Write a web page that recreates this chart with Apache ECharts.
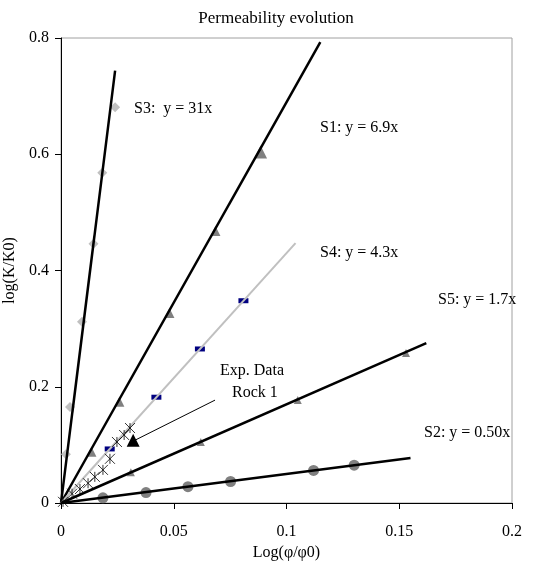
<!DOCTYPE html>
<html>
<head>
<meta charset="utf-8">
<script src="https://cdn.jsdelivr.net/npm/echarts@6/dist/echarts.min.js"></script>
<style>
  html, body { margin: 0; padding: 0; background: #fff; }
  #chart { width: 546px; height: 565px; }
</style>
</head>
<body>
<div id="chart"></div>
<script>
// data: [log(phi/phi0), log(K/K0)]
const s3Points = [[0.0022, 0.084], [0.004, 0.165], [0.0093, 0.312], [0.0144, 0.446], [0.0183, 0.568], [0.024, 0.681]];
const s1Points = [[0.0135, 0.088], [0.0259, 0.174], [0.0481, 0.327], [0.0685, 0.468], [0.0885, 0.604]];
const s4Points = [[0.0216, 0.093], [0.0423, 0.182], [0.0616, 0.265], [0.0809, 0.348]];
const s5Points = [[0.031, 0.053], [0.062, 0.105], [0.105, 0.177], [0.153, 0.258]];
const s2Points = [[0.0186, 0.009], [0.0377, 0.018], [0.0563, 0.028], [0.0752, 0.037], [0.112, 0.056], [0.130, 0.065]];
const expPoints = [[0.0009, 0.002], [0.0049, 0.016], [0.0084, 0.024], [0.012, 0.034], [0.015, 0.045],
                   [0.0186, 0.057], [0.0217, 0.076], [0.0248, 0.105], [0.028, 0.117], [0.0306, 0.129]];
const rockPoint = [[0.032, 0.108]];

// fitted lines through the origin (start, end)
const s3Line = [[0, 0], [0.024, 0.744]];
const s1Line = [[0, 0], [0.115, 0.793]];
const s4Line = [[0, 0], [0.104, 0.447]];
const s5Line = [[0, 0], [0.162, 0.275]];
const s2Line = [[0, 0], [0.155, 0.0775]];
const pointerLine = [[0.0328, 0.108], [0.0683, 0.177]];

const xTicks = [0, 0.05, 0.1, 0.15, 0.2];
const yTicks = [0, 0.2, 0.4, 0.6, 0.8];

const serif = "'Liberation Serif', 'Times New Roman', serif";
const starPath = 'path://M0,0L10,10M10,0L0,10M5,0L5,10';

function fitLine(data, color, width) {
  return {
    type: 'line', data: data, symbol: 'none', z: 5, silent: true,
    lineStyle: { color: color, width: width }
  };
}

function marks(data, symbol, size, color) {
  return {
    type: 'scatter', data: data, symbol: symbol, symbolSize: size, z: 3,
    itemStyle: { color: color, opacity: 1 }
  };
}

function label(text, x, y) {
  return {
    type: 'text', left: x, top: y,
    style: { text: text, font: '16px ' + serif, fill: '#000' }
  };
}

const chart = echarts.init(document.getElementById('chart'));
chart.setOption({
  animation: false,
  title: {
    text: 'Permeability evolution', left: 271, top: 5, textAlign: 'center',
    textStyle: { fontFamily: serif, fontSize: 17, fontWeight: 'normal', color: '#000' }
  },
  grid: {
    left: 61, right: 34, top: 38, bottom: 62, outerBoundsMode: 'none', containLabel: false,
    show: true, borderColor: '#a0a0a0', borderWidth: 1
  },
  xAxis: {
    type: 'value', min: xTicks[0], max: xTicks[xTicks.length - 1], interval: 0.05,
    name: 'Log(φ/φ0)', nameLocation: 'middle', nameGap: 37,
    nameTextStyle: { fontFamily: serif, fontSize: 16, color: '#000' },
    axisLine: { lineStyle: { color: '#000', width: 1 } },
    axisTick: { inside: false, length: 6, lineStyle: { color: '#000' } },
    axisLabel: { margin: 21, fontFamily: serif, fontSize: 16, color: '#000' },
    splitLine: { show: false }
  },
  yAxis: {
    type: 'value', min: yTicks[0], max: yTicks[yTicks.length - 1], interval: 0.2,
    name: 'log(K/K0)', nameLocation: 'middle', nameGap: 32,
    nameTextStyle: { fontFamily: serif, fontSize: 16, color: '#000' },
    axisLine: { show: true, lineStyle: { color: '#000', width: 1 } },
    axisTick: { show: true, inside: false, length: 6, lineStyle: { color: '#000' } },
    axisLabel: { margin: 12, fontFamily: serif, fontSize: 16, color: '#000' },
    splitLine: { show: false }
  },
  series: [
    marks(s3Points, 'diamond', 10, '#c0c0c0'),
    marks(s1Points, 'triangle', function (v, p) { return p.dataIndex === s1Points.length - 1 ? 13 : 10; }, '#808080'),
    marks(s4Points, 'rect', [10, 5], '#000080'),
    marks(s5Points, 'triangle', 8, '#808080'),
    marks(s2Points, 'circle', 11, '#808080'),
    {
      type: 'scatter', data: expPoints, symbol: starPath, symbolSize: 10, z: 6,
      itemStyle: { color: 'rgba(0,0,0,0)', borderColor: '#000', borderWidth: 1 }
    },
    marks(rockPoint, 'triangle', 13, '#000'),
    fitLine(s3Line, '#000', 2.5),
    fitLine(s1Line, '#000', 2.5),
    fitLine(s4Line, '#c0c0c0', 2),
    fitLine(s5Line, '#000', 2.5),
    fitLine(s2Line, '#000', 2.5),
    fitLine(pointerLine, '#000', 1)
  ],
  graphic: [
    label('S3:  y = 31x', 134, 101),
    label('S1: y = 6.9x', 320, 120),
    label('S4: y = 4.3x', 320, 245),
    label('S5: y = 1.7x', 438, 292),
    label('S2: y = 0.50x', 424, 425),
    {
      type: 'text', left: 220, top: 360,
      style: { text: 'Exp. Data\n   Rock 1', font: '16px ' + serif, fill: '#000', lineHeight: 22 }
    }
  ]
});
</script>
</body>
</html>
